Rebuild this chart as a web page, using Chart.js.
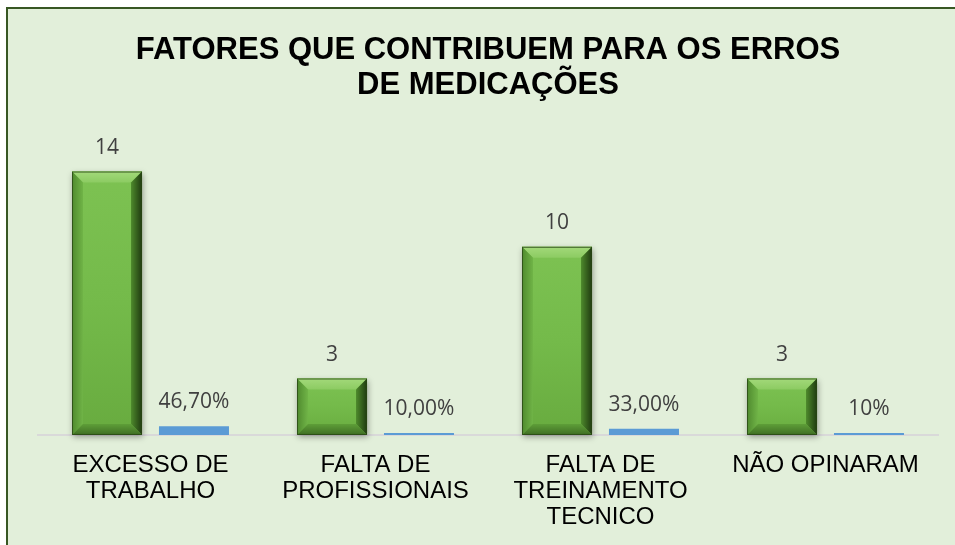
<!DOCTYPE html>
<html>
<head>
<meta charset="utf-8">
<script src="https://cdn.jsdelivr.net/npm/chart.js@4"></script>
<style>
    html, body { margin: 0; padding: 0; background: #ffffff; overflow: hidden; }
    #box {
        position: absolute;
        left: 6px;
        top: 7px;
        width: 950px;
        height: 540px;
        border-left: 2px solid #385723;
        border-top: 2px solid #385723;
        background: #E2EFDA;
    }
</style>
</head>
<body>
<div id="box"><canvas id="erros_chart"></canvas></div>
<script>
const categories = [
    ["EXCESSO DE", "TRABALHO"],
    ["FALTA DE", "PROFISSIONAIS"],
    ["FALTA DE", "TREINAMENTO", "TECNICO"],
    ["NÃO OPINARAM"]
];
const counts = [14, 3, 10, 3];
const percents = [0.467, 0.10, 0.33, 0.10];
const percentLabels = ["46,70%", "10,00%", "33,00%", "10%"];

const erros_chart = document.getElementById("erros_chart");

// draws the value labels above every bar
const valueLabels = {
    id: "valueLabels",
    afterDatasetsDraw(chart) {
        const ctx = chart.ctx;
        ctx.save();
        ctx.font = "21px 'Open Sans'";
        ctx.fillStyle = "#404040";
        ctx.textAlign = "center";
        ctx.textBaseline = "alphabetic";
        chart.data.datasets.forEach((ds, i) => {
            chart.getDatasetMeta(i).data.forEach((bar, j) => {
                const txt = i === 0 ? String(counts[j]) : percentLabels[j];
                ctx.fillText(txt, bar.x, bar.y - 18);
            });
        });
        ctx.restore();
    }
};

// bevelled look of the green bars
const bevel = {
    id: "bevel",
    afterDatasetDraw(chart, args) {
        if (args.index !== 0) return;
        const ctx = chart.ctx;
        args.meta.data.forEach(bar => {
            const l = bar.x - bar.width / 2;
            const r = bar.x + bar.width / 2;
            const t = bar.y;
            const b = bar.base;
            const s = Math.min(11, (b - t) / 2.5);
            ctx.save();
            // shadow
            ctx.shadowColor = "rgba(0,0,0,0.35)";
            ctx.shadowBlur = 6;
            ctx.shadowOffsetX = 1;
            ctx.shadowOffsetY = 2;
            const g = ctx.createLinearGradient(0, t, 0, b);
            g.addColorStop(0, "#7DC252");
            g.addColorStop(0.5, "#74BA4A");
            g.addColorStop(1, "#68AB3F");
            ctx.fillStyle = g;
            ctx.fillRect(l, t, r - l, b - t);
            ctx.restore();

            const poly = (pts, fill) => {
                ctx.beginPath();
                ctx.moveTo(pts[0][0], pts[0][1]);
                for (let k = 1; k < pts.length; k++) ctx.lineTo(pts[k][0], pts[k][1]);
                ctx.closePath();
                ctx.fillStyle = fill;
                ctx.fill();
            };
            ctx.save();
            // top
            const gt = ctx.createLinearGradient(0, t, 0, t + s);
            gt.addColorStop(0, "#A3D97A");
            gt.addColorStop(1, "#8CCB62");
            poly([[l, t], [r, t], [r - s, t + s], [l + s, t + s]], gt);
            // left
            const gl = ctx.createLinearGradient(l, 0, l + s, 0);
            gl.addColorStop(0, "#4F8A2E");
            gl.addColorStop(1, "#70B447");
            poly([[l, t], [l + s, t + s], [l + s, b - s], [l, b]], gl);
            // right
            const gr = ctx.createLinearGradient(r - s, 0, r, 0);
            gr.addColorStop(0, "#4E8A2C");
            gr.addColorStop(1, "#1F3A10");
            poly([[r, t], [r, b], [r - s, b - s], [r - s, t + s]], gr);
            // bottom
            const gb = ctx.createLinearGradient(0, b - s, 0, b);
            gb.addColorStop(0, "#5E9E38");
            gb.addColorStop(1, "#3F6E24");
            poly([[l, b], [r, b], [r - s, b - s], [l + s, b - s]], gb);
            ctx.strokeStyle = "rgba(40,70,20,0.8)";
            ctx.lineWidth = 1;
            ctx.strokeRect(l + 0.5, t + 0.5, r - l - 1, b - t - 1);
            ctx.restore();
        });
    }
};

new Chart(erros_chart, {
    type: "bar",
    data: {
        labels: categories,
        datasets: [
            {
                label: "Quantidade",
                data: counts,
                backgroundColor: "#72B84A",
                categoryPercentage: 0.773,
                barPercentage: 0.805,
            },
            {
                label: "Percentual",
                data: percents,
                backgroundColor: "#5B9BD5",
                categoryPercentage: 0.773,
                barPercentage: 0.805,
            },
        ],
    },
    options: {
        responsive: true,
        maintainAspectRatio: false,
        animation: false,
        layout: {
            padding: { left: 30, right: 20, top: 0, bottom: 1 },
        },
        plugins: {
            legend: { display: false },
            tooltip: { enabled: false },
            title: {
                display: true,
                text: ["FATORES QUE CONTRIBUEM PARA OS ERROS", "DE MEDICAÇÕES"],
                color: "#000000",
                font: { family: "'Liberation Sans', Arial", size: 31, weight: "bold", lineHeight: 1.16 },
                padding: { top: 23, bottom: 30 },
            },
        },
        scales: {
            x: {
                grid: { display: false, drawTicks: false },
                border: { display: true, color: "#D9D9D9", width: 2 },
                ticks: {
                    color: "#000000",
                    padding: 18,
                    maxRotation: 0,
                    autoSkip: false,
                    font: { family: "'Liberation Sans', Arial", size: 24, lineHeight: 1.07 },
                },
            },
            y: {
                display: false,
                min: 0,
                max: 16,
            },
        },
    },
    plugins: [bevel, valueLabels],
});
</script>
</body>
</html>
